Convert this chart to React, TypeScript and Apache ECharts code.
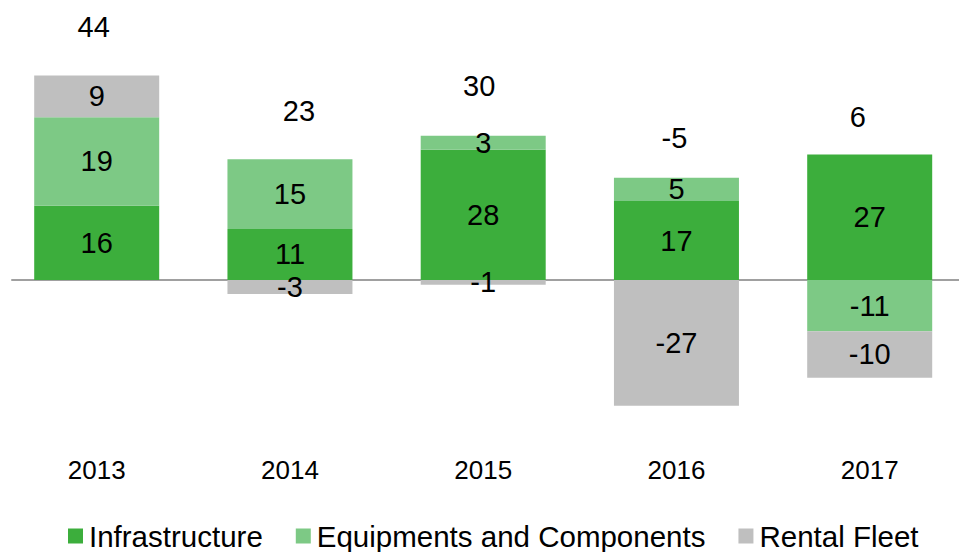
import React, { useEffect, useRef } from "react";
import * as echarts from "echarts";

const years = ["2013", "2014", "2015", "2016", "2017"];
const infrastructure = [16, 11, 28, 17, 27];
const equipments = [19, 15, 3, 5, -11];
const rentalFleet = [9, -3, -1, -27, -10];

const seriesNames = ["Infrastructure", "Equipments and Components", "Rental Fleet"];
const colors = ["#3cae3c", "#7dc985", "#bfbfbf"];

// style only: hand placement of the total labels (px offsets)
const totalLabelDx = [-3, 9, -4, -2, -12];
const totalLabelGap = [34, 34, 35, 25, 23];

const FONT = "'Liberation Sans', Arial, sans-serif";

export default function App() {
  const ref = useRef<HTMLDivElement>(null);
  useEffect(() => {
    if (!ref.current) return;
    const chart = echarts.init(ref.current, null, { renderer: "svg" });
    const all = [infrastructure, equipments, rentalFleet];
    const totals = years.map((_, i) => all.reduce((s, a) => s + a[i], 0));
    const posTops = years.map((_, i) => all.reduce((s, a) => s + (a[i] > 0 ? a[i] : 0), 0));

    const barSeries = all.map((arr, k) => ({
      name: seriesNames[k],
      type: "bar",
      stack: "total",
      xAxisIndex: 0,
      yAxisIndex: 0,
      barWidth: 125,
      itemStyle: { color: colors[k] },
      label: {
        show: true,
        position: "inside",
        color: "#000",
        fontSize: 29,
        fontFamily: FONT,
      },
      data: arr,
    }));

    chart.setOption({
      animation: false,
      textStyle: { fontFamily: FONT },
      grid: [
        { left: 96.7, right: 89.3, top: 47.5, bottom: 104.5, containLabel: false },
        { left: 12, right: 0, top: 47.5, bottom: 104.5, containLabel: false },
      ],
      legend: {
        data: seriesNames,
        left: 63,
        top: 516,
        icon: "rect",
        itemWidth: 15,
        itemHeight: 15,
        itemGap: 33,
        textStyle: { fontSize: 29.5, color: "#000", fontFamily: FONT, padding: [0, 0, 0, 1] },
      },
      xAxis: [
        {
          type: "category",
          gridIndex: 0,
          data: years,
          boundaryGap: false,
          position: "bottom",
          axisLine: { show: false, onZero: false },
          axisTick: { show: false },
          splitLine: { show: false },
          axisLabel: { fontSize: 26, color: "#000", margin: 9, fontFamily: FONT },
        },
        {
          type: "category",
          gridIndex: 1,
          data: years,
          position: "bottom",
          axisLine: { show: true, onZero: true, lineStyle: { color: "#a0a0a0", width: 2 } },
          axisTick: { show: false },
          splitLine: { show: false },
          axisLabel: { show: false },
        },
      ],
      yAxis: [
        {
          type: "value",
          gridIndex: 0,
          min: -36,
          max: 50,
          show: false,
          splitLine: { show: false },
        },
        {
          type: "value",
          gridIndex: 1,
          min: -36,
          max: 50,
          axisLine: { show: false },
          axisTick: { show: false },
          axisLabel: { show: false },
          splitLine: { show: false },
        },
      ],
      series: [
        ...barSeries,
        {
          name: "Total",
          type: "scatter",
          xAxisIndex: 0,
          yAxisIndex: 0,
          symbolSize: 0,
          silent: true,
          z: 5,
          itemStyle: { opacity: 1, color: "rgba(0,0,0,0)" },
          label: {
            show: true,
            position: "top",
            color: "#000",
            opacity: 1,
            fontSize: 29,
            fontFamily: FONT,
            formatter: (p: any) => String(totals[p.dataIndex]),
          },
          data: posTops.map((v, i) => ({
            value: [i, v],
            label: { distance: totalLabelGap[i], offset: [totalLabelDx[i], 0] },
          })),
        },
      ],
    });
    return () => chart.dispose();
  }, []);
  return <div ref={ref} style={{ width: 959, height: 552, position: "absolute", left: 0, top: 0 }} />;
}
